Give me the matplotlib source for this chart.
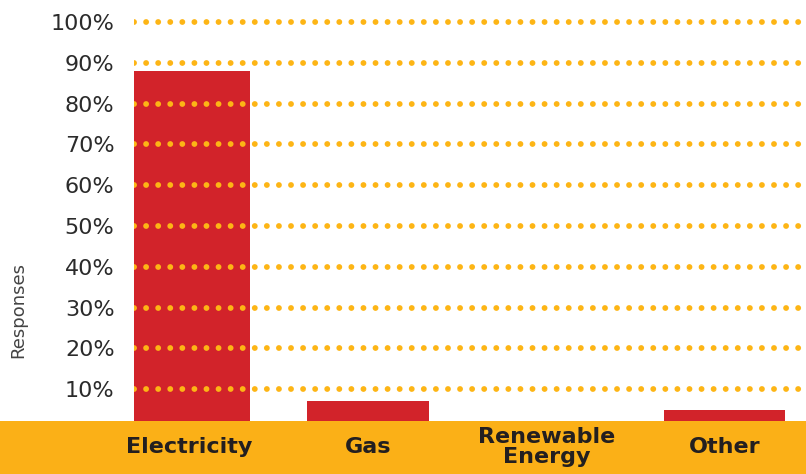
import matplotlib
matplotlib.use("Agg")
import matplotlib.pyplot as plt
from matplotlib.patches import Rectangle

categories = ["Electricity", "Gas", "Renewable\nEnergy", "Other"]
values = [88, 7, 0, 5]
yticks = [10, 20, 30, 40, 50, 60, 70, 80, 90, 100]
ytick_labels = [f"{v}%" for v in yticks]

W, H = 806, 474
fig = plt.figure(figsize=(W / 100, H / 100), dpi=100)
fig.patch.set_facecolor("white")

band_h = 53 / H
band = Rectangle((0, 0), 1, band_h, transform=fig.transFigure,
                 facecolor="#FBB017", edgecolor="none", zorder=-5)
fig.patches.append(band)

ax = fig.add_axes([134 / W, band_h, 1 - 134 / W, 1 - band_h])
ax.set_facecolor("none")
x = list(range(len(categories)))
ax.bar(x, values, width=0.68, color="#D2232A", zorder=2)

ax.set_xlim(-0.31, 3.455)
ax.set_ylim(2.2, 105.4)
for s in ax.spines.values():
    s.set_visible(False)

for v in yticks:
    ax.axhline(v, color="#FDB515", linewidth=4.2, linestyle=(0, (0.01, 2.06)),
               dash_capstyle="round", zorder=3)

ax.set_yticks(yticks)
ax.set_yticklabels(ytick_labels, fontsize=16, color="#2b2b2b")
ax.tick_params(axis="y", length=0, pad=14)

ax.set_xticks(x)
ax.set_xticklabels(categories, fontsize=16, fontweight="bold", color="#231F20",
                   linespacing=1.0)
ax.tick_params(axis="x", length=0, pad=19)
for lbl in ax.get_xticklabels():
    lbl.set_verticalalignment("center")

fig.text(18 / W, 1 - 310 / H, "Responses", rotation=90, ha="center", va="center",
         fontsize=13, color="#444444")

fig.savefig("out.png", dpi=100)
